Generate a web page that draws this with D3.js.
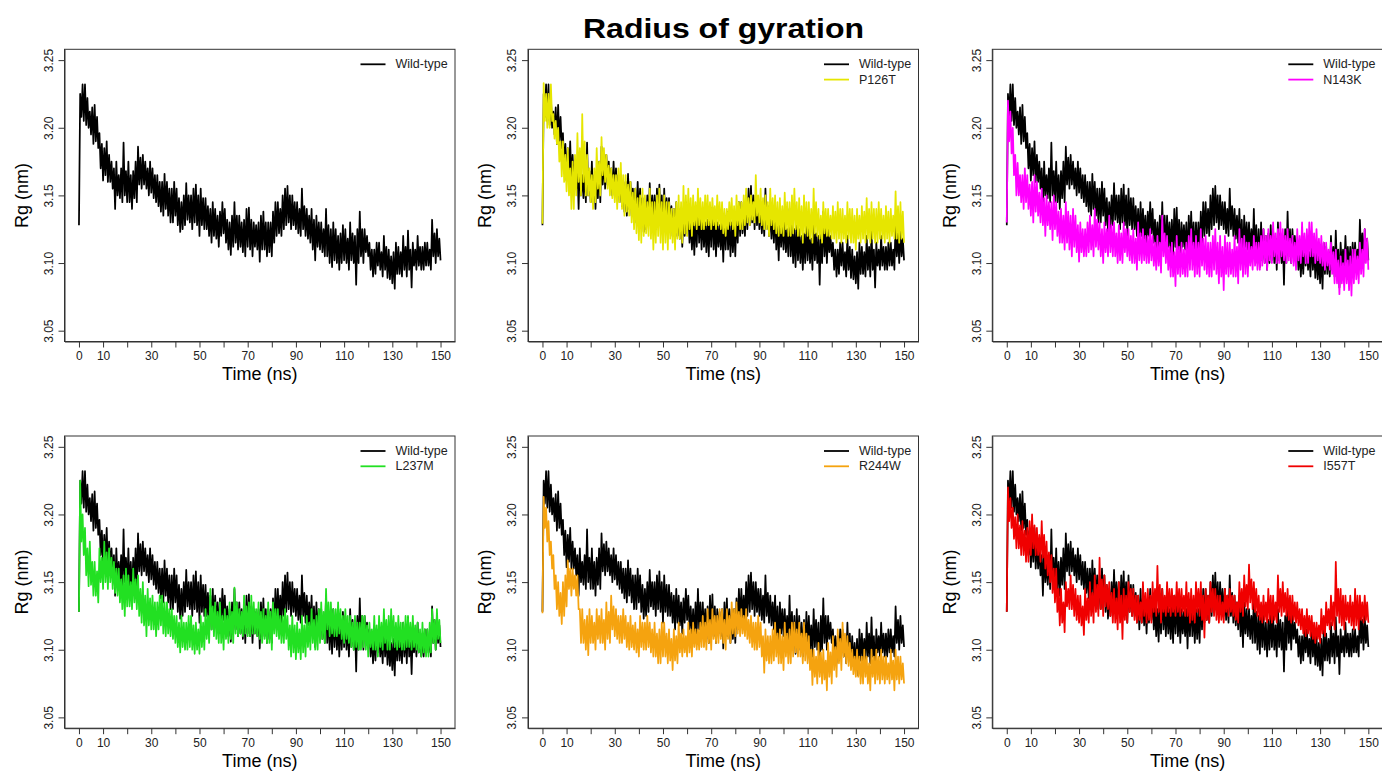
<!DOCTYPE html>
<html>
<head>
<meta charset="utf-8">
<script src="https://cdn.jsdelivr.net/npm/d3@7"></script>
<style>
  body { margin: 0; background: #fff; }
  svg { display: block; }
  text { font-family: "Liberation Sans", Arial, Helvetica, sans-serif; }
</style>
</head>
<body>
<svg id="chart" width="1382" height="774"></svg>
<script>
// Radius of gyration (nm) sampled every 0.5 ns from 0 to 150 ns.
// The first value is the starting frame; after it, each 1-ns window
// contributes its (upper, lower) pair.
const timeNs = d3.range(0, 150.5, 0.5);

const wildType = [3.128,
  3.225,3.208, 3.232,3.205, 3.232,3.202, 3.222,3.200, 3.212,3.195, 3.215,3.188, 3.217,3.190, 3.208,3.185, 3.196,3.170, 3.188,3.161,
  3.185,3.165, 3.190,3.160, 3.180,3.160, 3.175,3.155, 3.170,3.140, 3.175,3.150, 3.165,3.148, 3.170,3.145, 3.189,3.150, 3.168,3.145,
  3.175,3.145, 3.165,3.140, 3.168,3.148, 3.175,3.145, 3.186,3.158, 3.178,3.155, 3.180,3.158, 3.175,3.155, 3.170,3.150, 3.175,3.152,
  3.170,3.148, 3.165,3.145, 3.165,3.142, 3.160,3.138, 3.160,3.135, 3.166,3.140, 3.160,3.135, 3.155,3.130, 3.155,3.130, 3.160,3.135,
  3.155,3.128, 3.148,3.123, 3.145,3.125, 3.150,3.128, 3.159,3.132, 3.150,3.130, 3.150,3.125, 3.155,3.130, 3.158,3.128, 3.150,3.120,
  3.155,3.128, 3.148,3.125, 3.148,3.125, 3.142,3.120, 3.140,3.115, 3.145,3.120, 3.140,3.118, 3.135,3.112, 3.138,3.120, 3.145,3.122,
  3.140,3.115, 3.132,3.110, 3.130,3.106, 3.135,3.112, 3.145,3.115, 3.135,3.110, 3.135,3.112, 3.130,3.108, 3.132,3.105, 3.140,3.112,
  3.141,3.110, 3.132,3.105, 3.130,3.112, 3.128,3.110, 3.130,3.101, 3.135,3.110, 3.138,3.110, 3.130,3.105, 3.130,3.108, 3.130,3.105,
  3.138,3.115, 3.145,3.120, 3.145,3.122, 3.140,3.120, 3.150,3.125, 3.155,3.128, 3.157,3.130, 3.150,3.125, 3.150,3.128, 3.145,3.125,
  3.145,3.122, 3.140,3.120, 3.155,3.125, 3.142,3.120, 3.140,3.118, 3.135,3.115, 3.140,3.110, 3.132,3.102, 3.135,3.112, 3.130,3.110,
  3.130,3.108, 3.125,3.105, 3.140,3.105, 3.128,3.100, 3.125,3.097, 3.130,3.102, 3.125,3.100, 3.120,3.095, 3.122,3.100, 3.128,3.102,
  3.125,3.100, 3.118,3.095, 3.130,3.102, 3.122,3.100, 3.120,3.084, 3.125,3.100, 3.138,3.105, 3.125,3.100, 3.125,3.108, 3.120,3.105,
  3.115,3.095, 3.110,3.090, 3.110,3.092, 3.115,3.098, 3.115,3.095, 3.108,3.090, 3.120,3.095, 3.112,3.089, 3.110,3.088, 3.105,3.085,
  3.108,3.081, 3.115,3.092, 3.112,3.092, 3.108,3.090, 3.120,3.095, 3.112,3.090, 3.124,3.095, 3.110,3.082, 3.115,3.098, 3.110,3.095,
  3.120,3.098, 3.112,3.095, 3.112,3.095, 3.115,3.098, 3.115,3.098, 3.110,3.095, 3.132,3.105, 3.122,3.100, 3.125,3.105, 3.118,3.102];

const p126t = [3.129,
  3.233,3.205, 3.225,3.200, 3.225,3.200, 3.232,3.205, 3.210,3.192, 3.205,3.188, 3.200,3.175, 3.190,3.164, 3.190,3.160, 3.180,3.153,
  3.185,3.150, 3.170,3.140, 3.175,3.140, 3.180,3.150, 3.196,3.160, 3.185,3.150, 3.210,3.160, 3.190,3.150, 3.180,3.150, 3.170,3.145,
  3.165,3.140, 3.170,3.145, 3.185,3.155, 3.175,3.150, 3.193,3.165, 3.185,3.160, 3.180,3.155, 3.172,3.150, 3.170,3.148, 3.165,3.145,
  3.165,3.140, 3.170,3.145, 3.174,3.140, 3.165,3.135, 3.165,3.138, 3.158,3.135, 3.160,3.130, 3.152,3.125, 3.155,3.122, 3.148,3.117,
  3.150,3.115, 3.155,3.120, 3.150,3.122, 3.145,3.120, 3.155,3.118, 3.145,3.110, 3.145,3.115, 3.150,3.120, 3.155,3.115, 3.145,3.110,
  3.150,3.115, 3.145,3.110, 3.145,3.118, 3.140,3.115, 3.140,3.110, 3.145,3.118, 3.150,3.118, 3.145,3.115, 3.157,3.122, 3.150,3.120,
  3.155,3.125, 3.148,3.120, 3.150,3.128, 3.145,3.125, 3.155,3.128, 3.148,3.125, 3.145,3.125, 3.150,3.128, 3.150,3.128, 3.145,3.125,
  3.148,3.128, 3.142,3.125, 3.150,3.128, 3.145,3.125, 3.145,3.122, 3.140,3.120, 3.140,3.125, 3.145,3.128, 3.148,3.125, 3.142,3.120,
  3.150,3.128, 3.145,3.125, 3.145,3.125, 3.150,3.128, 3.155,3.130, 3.148,3.128, 3.150,3.132, 3.145,3.130, 3.165,3.135, 3.150,3.130,
  3.155,3.128, 3.148,3.125, 3.150,3.125, 3.145,3.120, 3.155,3.128, 3.148,3.125, 3.150,3.122, 3.145,3.120, 3.148,3.122, 3.142,3.120,
  3.152,3.125, 3.145,3.120, 3.145,3.120, 3.150,3.122, 3.155,3.125, 3.145,3.120, 3.148,3.120, 3.142,3.115, 3.150,3.122, 3.145,3.120,
  3.145,3.118, 3.140,3.115, 3.155,3.122, 3.145,3.120, 3.140,3.118, 3.135,3.115, 3.145,3.122, 3.140,3.120, 3.140,3.120, 3.135,3.118,
  3.142,3.118, 3.138,3.115, 3.145,3.118, 3.140,3.115, 3.140,3.118, 3.135,3.115, 3.145,3.118, 3.140,3.115, 3.140,3.115, 3.135,3.110,
  3.140,3.118, 3.135,3.115, 3.142,3.118, 3.138,3.115, 3.148,3.118, 3.140,3.115, 3.145,3.118, 3.140,3.115, 3.140,3.115, 3.145,3.118,
  3.140,3.118, 3.135,3.115, 3.142,3.118, 3.138,3.115, 3.140,3.120, 3.135,3.118, 3.153,3.118, 3.142,3.115, 3.145,3.118, 3.138,3.115];

const n143k = [3.130,
  3.220,3.190, 3.212,3.181, 3.200,3.165, 3.180,3.150, 3.174,3.150, 3.165,3.145, 3.165,3.140, 3.170,3.145, 3.165,3.140, 3.158,3.135,
  3.160,3.130, 3.165,3.138, 3.160,3.135, 3.152,3.130, 3.155,3.128, 3.148,3.120, 3.150,3.128, 3.145,3.125, 3.145,3.117, 3.150,3.125,
  3.145,3.120, 3.138,3.115, 3.140,3.115, 3.135,3.110, 3.145,3.115, 3.138,3.110, 3.135,3.105, 3.140,3.112, 3.135,3.108, 3.128,3.101,
  3.130,3.108, 3.125,3.105, 3.125,3.105, 3.130,3.108, 3.135,3.110, 3.128,3.105, 3.140,3.112, 3.132,3.110, 3.130,3.105, 3.125,3.100,
  3.130,3.108, 3.125,3.105, 3.135,3.108, 3.128,3.105, 3.130,3.105, 3.122,3.100, 3.128,3.102, 3.122,3.100, 3.130,3.108, 3.125,3.105,
  3.125,3.102, 3.120,3.100, 3.125,3.100, 3.118,3.095, 3.130,3.102, 3.122,3.100, 3.125,3.102, 3.120,3.100, 3.120,3.100, 3.125,3.102,
  3.120,3.098, 3.115,3.095, 3.120,3.098, 3.115,3.093, 3.135,3.105, 3.122,3.100, 3.120,3.095, 3.112,3.090, 3.115,3.090, 3.108,3.083,
  3.120,3.092, 3.112,3.090, 3.115,3.092, 3.110,3.090, 3.115,3.090, 3.120,3.095, 3.125,3.095, 3.115,3.090, 3.120,3.092, 3.115,3.090,
  3.125,3.098, 3.118,3.095, 3.120,3.092, 3.115,3.090, 3.115,3.090, 3.120,3.095, 3.125,3.092, 3.115,3.085, 3.120,3.090, 3.112,3.080,
  3.120,3.092, 3.115,3.090, 3.115,3.092, 3.110,3.090, 3.120,3.090, 3.112,3.085, 3.125,3.095, 3.118,3.090, 3.120,3.092, 3.115,3.090,
  3.115,3.098, 3.112,3.095, 3.120,3.098, 3.115,3.095, 3.115,3.095, 3.120,3.098, 3.125,3.100, 3.120,3.095, 3.125,3.102, 3.120,3.100,
  3.130,3.105, 3.122,3.100, 3.125,3.100, 3.130,3.105, 3.125,3.102, 3.120,3.100, 3.125,3.102, 3.118,3.100, 3.120,3.098, 3.115,3.095,
  3.125,3.102, 3.120,3.100, 3.130,3.105, 3.122,3.100, 3.125,3.100, 3.130,3.105, 3.130,3.105, 3.122,3.100, 3.125,3.102, 3.118,3.100,
  3.120,3.098, 3.115,3.095, 3.115,3.098, 3.110,3.095, 3.115,3.092, 3.108,3.085, 3.110,3.085, 3.102,3.077, 3.105,3.085, 3.100,3.080,
  3.110,3.085, 3.102,3.080, 3.105,3.076, 3.110,3.085, 3.110,3.088, 3.105,3.085, 3.115,3.092, 3.110,3.090, 3.125,3.100, 3.118,3.095];

const l237m = [3.128,
  3.225,3.180, 3.200,3.170, 3.190,3.155, 3.175,3.147, 3.180,3.148, 3.165,3.140, 3.165,3.140, 3.158,3.135, 3.175,3.150, 3.168,3.145,
  3.180,3.150, 3.172,3.145, 3.175,3.150, 3.168,3.145, 3.165,3.142, 3.160,3.140, 3.160,3.135, 3.152,3.130, 3.155,3.125, 3.160,3.132,
  3.155,3.132, 3.150,3.130, 3.160,3.135, 3.152,3.130, 3.155,3.125, 3.145,3.120, 3.150,3.118, 3.140,3.110, 3.145,3.118, 3.138,3.115,
  3.140,3.115, 3.135,3.110, 3.135,3.115, 3.140,3.118, 3.140,3.112, 3.135,3.110, 3.135,3.112, 3.130,3.110, 3.130,3.108, 3.125,3.105,
  3.125,3.102, 3.120,3.098, 3.125,3.102, 3.120,3.100, 3.120,3.100, 3.125,3.102, 3.125,3.100, 3.118,3.097, 3.120,3.100, 3.115,3.097,
  3.125,3.102, 3.120,3.100, 3.130,3.108, 3.125,3.105, 3.145,3.115, 3.132,3.110, 3.135,3.108, 3.128,3.105, 3.135,3.105, 3.125,3.100,
  3.130,3.108, 3.125,3.105, 3.135,3.108, 3.128,3.105, 3.146,3.112, 3.135,3.110, 3.130,3.112, 3.128,3.110, 3.140,3.112, 3.132,3.110,
  3.135,3.110, 3.140,3.112, 3.135,3.112, 3.130,3.110, 3.135,3.108, 3.128,3.105, 3.130,3.108, 3.125,3.105, 3.135,3.105, 3.128,3.100,
  3.135,3.112, 3.130,3.110, 3.130,3.108, 3.125,3.105, 3.125,3.105, 3.130,3.108, 3.125,3.100, 3.118,3.095, 3.125,3.098, 3.118,3.093,
  3.120,3.098, 3.115,3.093, 3.125,3.098, 3.118,3.095, 3.125,3.102, 3.120,3.100, 3.130,3.105, 3.122,3.100, 3.125,3.100, 3.130,3.105,
  3.135,3.108, 3.128,3.105, 3.145,3.115, 3.135,3.110, 3.135,3.112, 3.130,3.110, 3.130,3.110, 3.135,3.112, 3.130,3.108, 3.125,3.105,
  3.130,3.108, 3.125,3.105, 3.125,3.102, 3.120,3.100, 3.125,3.102, 3.120,3.100, 3.120,3.100, 3.125,3.102, 3.125,3.100, 3.118,3.095,
  3.120,3.102, 3.115,3.100, 3.125,3.100, 3.118,3.095, 3.125,3.102, 3.120,3.100, 3.130,3.105, 3.122,3.100, 3.125,3.100, 3.130,3.105,
  3.125,3.102, 3.120,3.100, 3.125,3.102, 3.120,3.100, 3.120,3.100, 3.125,3.102, 3.125,3.102, 3.120,3.100, 3.125,3.102, 3.118,3.100,
  3.120,3.098, 3.115,3.095, 3.120,3.098, 3.115,3.095, 3.115,3.095, 3.120,3.098, 3.130,3.105, 3.122,3.100, 3.130,3.108, 3.122,3.105];

const r244w = [3.127,
  3.213,3.190, 3.205,3.180, 3.195,3.170, 3.180,3.160, 3.170,3.145, 3.155,3.130, 3.150,3.125, 3.142,3.119, 3.150,3.125, 3.155,3.132,
  3.166,3.145, 3.160,3.140, 3.160,3.145, 3.155,3.140, 3.155,3.130, 3.130,3.105, 3.130,3.105, 3.122,3.100, 3.125,3.096, 3.130,3.105,
  3.125,3.105, 3.120,3.100, 3.130,3.108, 3.125,3.105, 3.130,3.105, 3.122,3.100, 3.135,3.108, 3.128,3.105, 3.140,3.115, 3.132,3.110,
  3.130,3.108, 3.125,3.105, 3.125,3.105, 3.130,3.108, 3.125,3.102, 3.120,3.100, 3.125,3.102, 3.118,3.100, 3.120,3.098, 3.115,3.095,
  3.125,3.102, 3.120,3.100, 3.120,3.100, 3.125,3.102, 3.120,3.098, 3.115,3.095, 3.120,3.095, 3.112,3.090, 3.115,3.090, 3.120,3.095,
  3.120,3.095, 3.112,3.090, 3.115,3.092, 3.108,3.085, 3.115,3.092, 3.110,3.090, 3.120,3.098, 3.112,3.095, 3.115,3.098, 3.110,3.095,
  3.120,3.098, 3.115,3.095, 3.120,3.102, 3.115,3.100, 3.115,3.100, 3.120,3.102, 3.125,3.102, 3.120,3.100, 3.130,3.105, 3.122,3.100,
  3.130,3.108, 3.125,3.105, 3.125,3.105, 3.130,3.108, 3.130,3.105, 3.122,3.100, 3.130,3.108, 3.125,3.105, 3.135,3.112, 3.130,3.110,
  3.135,3.112, 3.128,3.110, 3.130,3.112, 3.125,3.110, 3.130,3.108, 3.122,3.105, 3.125,3.102, 3.120,3.100, 3.120,3.100, 3.125,3.102,
  3.120,3.095, 3.110,3.083, 3.115,3.092, 3.110,3.090, 3.110,3.090, 3.115,3.092, 3.120,3.095, 3.112,3.090, 3.115,3.090, 3.110,3.085,
  3.120,3.095, 3.112,3.090, 3.115,3.090, 3.120,3.095, 3.120,3.098, 3.115,3.095, 3.120,3.095, 3.112,3.090, 3.120,3.092, 3.112,3.090,
  3.110,3.085, 3.100,3.074, 3.100,3.080, 3.095,3.075, 3.105,3.080, 3.098,3.075, 3.100,3.078, 3.092,3.070, 3.105,3.080, 3.098,3.075,
  3.110,3.085, 3.102,3.080, 3.115,3.090, 3.108,3.085, 3.120,3.095, 3.112,3.090, 3.110,3.088, 3.105,3.085, 3.100,3.082, 3.095,3.080,
  3.100,3.080, 3.095,3.075, 3.095,3.075, 3.100,3.080, 3.095,3.075, 3.090,3.070, 3.100,3.080, 3.095,3.075, 3.100,3.078, 3.095,3.075,
  3.100,3.078, 3.095,3.075, 3.095,3.078, 3.090,3.075, 3.100,3.078, 3.092,3.070, 3.100,3.078, 3.095,3.075, 3.095,3.078, 3.090,3.075];

const i557t = [3.128,
  3.220,3.195, 3.212,3.190, 3.205,3.182, 3.198,3.175, 3.200,3.175, 3.192,3.170, 3.195,3.170, 3.188,3.165, 3.190,3.165, 3.195,3.170,
  3.200,3.175, 3.192,3.170, 3.190,3.170, 3.185,3.165, 3.195,3.168, 3.185,3.160, 3.180,3.155, 3.172,3.150, 3.170,3.142, 3.160,3.135,
  3.160,3.128, 3.145,3.118, 3.145,3.120, 3.135,3.113, 3.150,3.132, 3.145,3.130, 3.155,3.130, 3.148,3.125, 3.145,3.122, 3.140,3.120,
  3.140,3.118, 3.132,3.111, 3.145,3.122, 3.138,3.120, 3.150,3.125, 3.142,3.120, 3.155,3.128, 3.148,3.125, 3.168,3.130, 3.152,3.125,
  3.155,3.132, 3.148,3.130, 3.150,3.125, 3.142,3.120, 3.145,3.120, 3.138,3.115, 3.150,3.120, 3.140,3.108, 3.145,3.122, 3.140,3.120,
  3.150,3.128, 3.145,3.125, 3.145,3.122, 3.140,3.120, 3.140,3.122, 3.135,3.120, 3.150,3.125, 3.142,3.120, 3.145,3.122, 3.140,3.120,
  3.150,3.128, 3.145,3.125, 3.162,3.128, 3.148,3.120, 3.145,3.128, 3.140,3.125, 3.150,3.128, 3.145,3.125, 3.145,3.128, 3.140,3.125,
  3.150,3.128, 3.145,3.125, 3.145,3.128, 3.140,3.125, 3.150,3.125, 3.142,3.120, 3.145,3.122, 3.140,3.120, 3.150,3.128, 3.145,3.125,
  3.150,3.122, 3.140,3.109, 3.145,3.122, 3.140,3.120, 3.150,3.128, 3.145,3.125, 3.145,3.122, 3.140,3.120, 3.140,3.122, 3.135,3.120,
  3.145,3.128, 3.140,3.125, 3.145,3.128, 3.140,3.125, 3.140,3.122, 3.135,3.120, 3.150,3.128, 3.145,3.125, 3.155,3.132, 3.148,3.130,
  3.163,3.135, 3.152,3.130, 3.150,3.128, 3.145,3.125, 3.140,3.122, 3.135,3.120, 3.140,3.122, 3.135,3.120, 3.145,3.122, 3.140,3.120,
  3.140,3.122, 3.135,3.120, 3.155,3.128, 3.145,3.125, 3.150,3.128, 3.142,3.125, 3.145,3.122, 3.140,3.120, 3.140,3.122, 3.135,3.120,
  3.135,3.118, 3.130,3.115, 3.130,3.112, 3.125,3.110, 3.130,3.112, 3.125,3.110, 3.125,3.108, 3.120,3.105, 3.120,3.108, 3.118,3.105,
  3.130,3.112, 3.125,3.110, 3.135,3.118, 3.130,3.115, 3.140,3.118, 3.135,3.115, 3.165,3.125, 3.145,3.120, 3.145,3.118, 3.140,3.115,
  3.140,3.122, 3.135,3.120, 3.140,3.118, 3.135,3.115, 3.145,3.118, 3.140,3.115, 3.140,3.122, 3.135,3.120, 3.140,3.122, 3.135,3.120];

const xTicks = d3.range(0, 151, 10);
const xTickLabels = [0, 10, 30, 50, 70, 90, 110, 130, 150];
const yTicks = [3.05, 3.10, 3.15, 3.20, 3.25];

const mutantNames  = [null, "P126T", "N143K", "L237M", "R244W", "I557T"];
const mutantSeries = [null, p126t, n143k, l237m, r244w, i557t];
const mutantColors = [null, "#e6e600", "#ff00ff", "#22e022", "#f5a30f", "#f00000"];

const svg = d3.select("#chart");

svg.append("text")
  .attr("x", 723.5).attr("y", 38.3)
  .attr("text-anchor", "middle")
  .attr("font-size", 28.5).attr("font-weight", "bold")
  .attr("textLength", 281).attr("lengthAdjust", "spacingAndGlyphs")
  .attr("fill", "#000")
  .text("Radius of gyration");

const colLeft = [64.5, 528, 992.3];
const rowTop = [49.3, 436];
const plotW = 390.5, plotH = 292.2;

mutantNames.forEach((name, i) => {
  const left = colLeft[i % 3], top = rowTop[Math.floor(i / 3)];
  const g = svg.append("g").attr("transform", `translate(${left},${top})`);

  const x = d3.scaleLinear().domain([-6, 156]).range([0, plotW]);
  const y = d3.scaleLinear().domain([3.042, 3.258]).range([plotH, 0]);

  const clipId = `clip${i}`;
  g.append("clipPath").attr("id", clipId)
    .append("rect").attr("width", plotW).attr("height", plotH);

  const line = d3.line()
    .x((d, j) => x(timeNs[j]))
    .y(d => y(d));

  const traces = [{ values: wildType, color: "#000" }];
  if (name) traces.push({ values: mutantSeries[i], color: mutantColors[i] });

  const lines = g.append("g").attr("clip-path", `url(#${clipId})`);
  traces.forEach(t => {
    lines.append("path")
      .attr("d", line(t.values))
      .attr("fill", "none")
      .attr("stroke", t.color)
      .attr("stroke-width", 1.75)
      .attr("stroke-linejoin", "round");
  });

  // frame
  g.append("rect")
    .attr("width", plotW).attr("height", plotH)
    .attr("fill", "none").attr("stroke", "#333").attr("stroke-width", 1);

  // x axis
  const xAxis = g.append("g").attr("transform", `translate(0,${plotH})`)
    .call(d3.axisBottom(x).tickValues(xTicks).tickSize(6).tickSizeOuter(0)
      .tickFormat(d => xTickLabels.includes(d) ? d : ""));
  xAxis.select(".domain").attr("stroke", "#333");
  xAxis.selectAll(".tick line").attr("stroke", "#333");
  xAxis.selectAll(".tick text")
    .attr("font-size", 12).attr("fill", "#222")
    .attr("font-family", "Liberation Sans, Arial, sans-serif")
    .attr("dy", null).attr("y", 18.5);

  // y axis with rotated labels
  const yAxis = g.append("g")
    .call(d3.axisLeft(y).tickValues(yTicks).tickSize(6).tickSizeOuter(0)
      .tickFormat(d3.format(".2f")));
  yAxis.select(".domain").attr("stroke", "#333");
  yAxis.selectAll(".tick line").attr("stroke", "#333");
  yAxis.selectAll(".tick text")
    .attr("font-size", 12).attr("fill", "#222")
    .attr("font-family", "Liberation Sans, Arial, sans-serif")
    .attr("x", null).attr("dy", null)
    .attr("text-anchor", "middle")
    .attr("transform", "translate(-11.8,0) rotate(-90)");

  // axis titles
  g.append("text")
    .attr("x", x(75)).attr("y", plotH + 38.5)
    .attr("text-anchor", "middle").attr("font-size", 18).attr("fill", "#000")
    .text("Time (ns)");
  g.append("text")
    .attr("transform", `translate(${-42.8},${plotH / 2}) rotate(-90)`)
    .attr("text-anchor", "middle").attr("dominant-baseline", "central")
    .attr("font-size", 18).attr("fill", "#000")
    .text("Rg (nm)");

  // legend
  const legendItems = [{ label: "Wild-type", color: "#000" }];
  if (name) legendItems.push({ label: name, color: mutantColors[i] });
  legendItems.forEach((item, k) => {
    const ly = 15 + k * 15.3;
    g.append("line")
      .attr("x1", 296).attr("x2", 321)
      .attr("y1", ly).attr("y2", ly)
      .attr("stroke", item.color).attr("stroke-width", 1.8);
    g.append("text")
      .attr("x", 331).attr("y", ly)
      .attr("dominant-baseline", "central")
      .attr("font-size", 12.5).attr("fill", "#222")
      .text(item.label);
  });
});
</script>
</body>
</html>
